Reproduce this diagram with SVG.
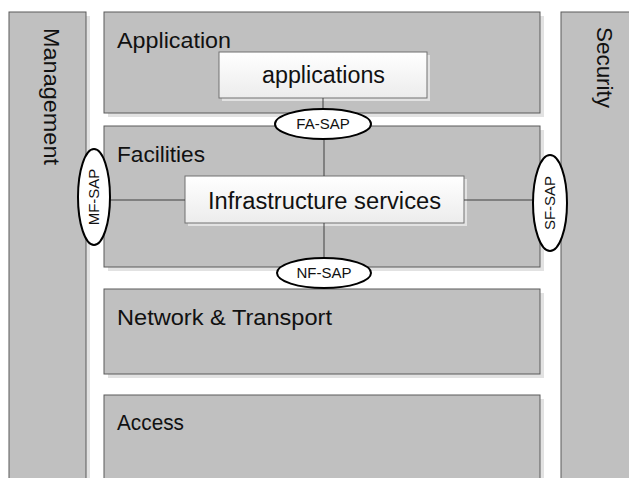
<svg xmlns="http://www.w3.org/2000/svg" width="629" height="478" viewBox="0 0 629 478">
<defs>
<linearGradient id="wg" x1="0" y1="0" x2="0" y2="1"><stop offset="0" stop-color="#ffffff"/><stop offset="1" stop-color="#ececec"/></linearGradient>
<style>
.sh{fill:#e2e2e2;stroke:none}
.layer{fill:#c0c0c0;stroke:#5a5a5a;stroke-width:1}
.box{fill:url(#wg);stroke:#707070;stroke-width:1}
.sap{fill:#ffffff;stroke:#000000;stroke-width:2}
.ln{stroke:#404040;stroke-width:1;fill:none}
.t{font-family:"Liberation Sans",Arial,sans-serif;fill:#111}
.big{font-size:22px}
.mid{font-size:23px}
.sm{font-size:15px}
</style>
</defs>
<rect width="629" height="478" fill="#ffffff"/>
<g id="management">
<rect class="sh" x="13" y="16" width="77" height="470"/>
<rect class="layer" x="9" y="12" width="77" height="470"/>
<text class="t big" transform="translate(44,28) rotate(90)" textLength="137" lengthAdjust="spacingAndGlyphs">Management</text>
</g>
<g id="security">
<rect class="layer" x="561" y="12" width="75" height="470"/>
<text class="t big" transform="translate(597,27) rotate(90)" textLength="81" lengthAdjust="spacingAndGlyphs">Security</text>
</g>
<g id="application">
<rect class="sh" x="108" y="16" width="436" height="101"/>
<rect class="layer" x="104" y="12" width="436" height="101"/>
<text class="t big" x="117" y="48" textLength="114" lengthAdjust="spacingAndGlyphs">Application</text>
</g>
<g id="applications">
<rect class="sh" x="222" y="55" width="208" height="46"/>
<rect class="box" x="219" y="52" width="208" height="46"/>
<text class="t mid" x="262" y="83" textLength="123" lengthAdjust="spacingAndGlyphs">applications</text>
</g>
<g id="facilities">
<rect class="sh" x="108" y="130" width="436" height="141"/>
<rect class="layer" x="104" y="126" width="436" height="141"/>
<text class="t big" x="117" y="162" textLength="88" lengthAdjust="spacingAndGlyphs">Facilities</text>
</g>
<g id="infrastructure">
<rect class="sh" x="188" y="179" width="279" height="47"/>
<rect class="box" x="185" y="176" width="279" height="47"/>
<text class="t mid" x="208" y="209" textLength="233" lengthAdjust="spacingAndGlyphs">Infrastructure  services</text>
</g>
<g id="network">
<rect class="sh" x="108" y="293" width="436" height="85"/>
<rect class="layer" x="104" y="289" width="436" height="85"/>
<text class="t big" x="117" y="325" textLength="215" lengthAdjust="spacingAndGlyphs">Network &amp; Transport</text>
</g>
<g id="access">
<rect class="sh" x="108" y="399" width="436" height="85"/>
<rect class="layer" x="104" y="395" width="436" height="90"/>
<text class="t big" x="117" y="430" textLength="67" lengthAdjust="spacingAndGlyphs">Access</text>
</g>
<g id="connectors">
<line class="ln" x1="323" y1="98" x2="323" y2="110"/>
<line class="ln" x1="324" y1="139" x2="324" y2="176"/>
<line class="ln" x1="324" y1="223" x2="324" y2="259"/>
<line class="ln" x1="110" y1="200" x2="185" y2="200"/>
<line class="ln" x1="464" y1="200" x2="533" y2="200"/>
</g>
<g id="fa-sap">
<ellipse class="sap" cx="323" cy="124" rx="48" ry="15"/>
<text class="t sm" x="323" y="129" text-anchor="middle">FA-SAP</text>
</g>
<g id="nf-sap">
<ellipse class="sap" cx="324" cy="273" rx="47" ry="15"/>
<text class="t sm" x="324" y="278" text-anchor="middle">NF-SAP</text>
</g>
<g id="mf-sap">
<ellipse class="sap" cx="94" cy="197" rx="16" ry="48"/>
<text class="t sm" transform="translate(99,197) rotate(-90)" text-anchor="middle">MF-SAP</text>
</g>
<g id="sf-sap">
<ellipse class="sap" cx="550" cy="203" rx="17" ry="48"/>
<text class="t sm" transform="translate(555,203) rotate(-90)" text-anchor="middle">SF-SAP</text>
</g>
</svg>
